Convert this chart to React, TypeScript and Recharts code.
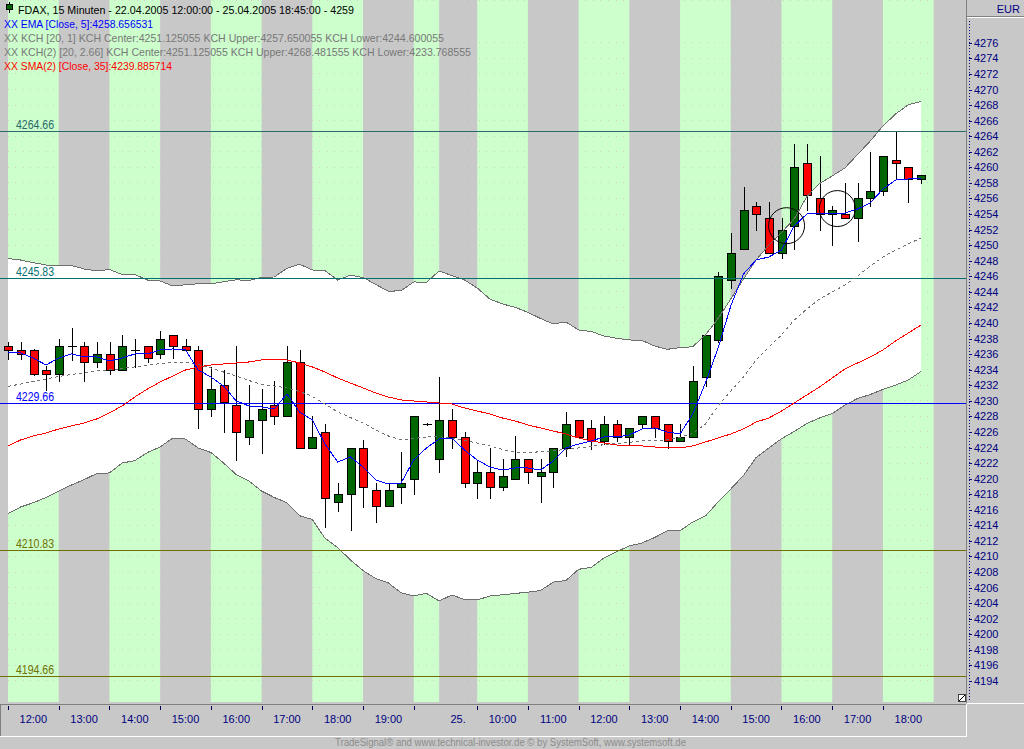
import React from "react";
import {
  ComposedChart,
  Line,
  Bar,
  Area,
  XAxis,
  YAxis,
  CartesianGrid,
  ReferenceArea,
  ReferenceLine,
  ReferenceDot,
} from "recharts";

// 15 minute candles, 22.04.2005 12:00 .. 25.04.2005 18:45
const times = [
  "12:00", "12:15", "12:30", "12:45", "13:00", "13:15", "13:30", "13:45",
  "14:00", "14:15", "14:30", "14:45", "15:00", "15:15", "15:30", "15:45",
  "16:00", "16:15", "16:30", "16:45", "17:00", "17:15", "17:30", "17:45",
  "18:00", "18:15", "18:30", "18:45", "19:00", "19:15", "19:30", "19:45",
  "08:30", "08:45", "09:15", "09:30", "09:45",
  "10:00", "10:15", "10:30", "10:45", "11:00", "11:15", "11:30", "11:45",
  "12:00", "12:15", "12:30", "12:45", "13:00", "13:15", "13:30", "13:45",
  "14:00", "14:15", "14:30", "14:45", "15:00", "15:15", "15:30", "15:45",
  "16:00", "16:15", "16:30", "16:45", "17:00", "17:15", "17:30", "17:45",
  "18:00", "18:15", "18:30", "18:45",
];

const opens = [
  4237.0, 4236.5, 4236.5, 4233.9, 4233.4, 4237.0, 4237.0, 4235.0, 4236.0, 4233.9,
  4236.5, 4237.0, 4236.0, 4238.5, 4237.0, 4236.5, 4228.9, 4232.0, 4229.4, 4225.4,
  4227.5, 4229.4, 4228.0, 4235.0, 4223.9, 4226.0, 4217.0, 4218.0, 4223.9, 4218.5,
  4216.5, 4218.9, 4219.9, 4227.0, 4222.5, 4227.5, 4225.4, 4219.4, 4220.9, 4218.9,
  4219.9, 4222.5, 4220.4, 4220.9, 4223.9, 4227.5, 4226.5, 4224.9, 4227.0, 4225.4,
  4227.0, 4228.1, 4227.0, 4224.9, 4225.4, 4233.0, 4237.8, 4245.5, 4249.5, 4255.0,
  4253.5, 4249.0, 4252.4, 4260.5, 4256.0, 4254.0, 4254.0, 4253.5, 4256.0, 4257.0,
  4261.0, 4260.0, 4258.5,
];
const highs = [
  4237.5, 4237.5, 4236.6, 4234.5, 4237.9, 4239.4, 4237.5, 4237.5, 4237.5, 4238.5,
  4237.9, 4237.0, 4239.0, 4238.5, 4237.9, 4237.0, 4234.4, 4234.0, 4237.0, 4232.0,
  4231.5, 4232.6, 4237.0, 4236.5, 4228.0, 4227.0, 4219.4, 4223.9, 4225.0, 4219.4,
  4219.4, 4223.4, 4228.0, 4227.1, 4233.1, 4228.9, 4226.0, 4222.4, 4223.9, 4222.5,
  4225.5, 4222.5, 4222.5, 4223.9, 4228.5, 4227.5, 4227.5, 4228.1, 4227.5, 4226.5,
  4228.1, 4228.1, 4227.0, 4227.0, 4234.5, 4238.4, 4246.5, 4251.5, 4257.5, 4255.6,
  4255.6, 4253.5, 4263.0, 4263.0, 4261.5, 4255.0, 4258.0, 4258.0, 4262.0, 4261.5,
  4264.6, 4260.0, 4259.0,
];
const lows = [
  4235.4, 4235.4, 4233.3, 4231.4, 4232.5, 4235.2, 4232.5, 4234.4, 4233.4, 4233.9,
  4234.4, 4235.0, 4235.5, 4235.5, 4236.5, 4226.5, 4228.0, 4226.0, 4222.4, 4224.4,
  4223.3, 4227.0, 4228.0, 4223.9, 4223.9, 4213.8, 4215.9, 4213.4, 4216.4, 4214.4,
  4216.5, 4216.9, 4218.0, 4226.9, 4220.9, 4223.9, 4218.9, 4217.5, 4217.5, 4218.5,
  4219.9, 4219.4, 4217.0, 4218.9, 4222.9, 4225.4, 4223.8, 4224.4, 4224.9, 4224.4,
  4226.5, 4225.4, 4223.9, 4224.9, 4225.4, 4231.9, 4237.5, 4244.5, 4249.5, 4252.0,
  4249.0, 4248.4, 4249.5, 4254.5, 4252.0, 4250.0, 4253.5, 4250.5, 4255.0, 4256.5,
  4258.5, 4255.5, 4258.0,
];
const closes = [
  4236.5, 4236.0, 4233.4, 4233.4, 4237.0, 4237.1, 4235.0, 4236.0, 4233.9, 4237.0,
  4236.5, 4235.5, 4237.9, 4237.0, 4236.5, 4228.9, 4231.5, 4229.9, 4226.0, 4227.5,
  4228.9, 4228.0, 4235.0, 4223.9, 4225.4, 4217.5, 4218.0, 4223.9, 4218.9, 4216.5,
  4218.5, 4219.4, 4228.0, 4227.0, 4227.5, 4225.4, 4219.4, 4220.9, 4218.9, 4220.4,
  4222.5, 4220.9, 4220.9, 4223.9, 4227.0, 4225.4, 4224.9, 4227.0, 4225.4, 4226.5,
  4228.1, 4226.5, 4224.9, 4225.4, 4232.5, 4238.4, 4246.0, 4249.0, 4254.5, 4254.0,
  4249.0, 4252.0, 4260.0, 4256.5, 4254.0, 4254.5, 4253.5, 4256.0, 4257.0, 4261.5,
  4260.5, 4258.5, 4259.0,
];

// indicators
const ema5 = [
  4236.15, 4236.15, 4235.5, 4234.6, 4235.5, 4236.02, 4235.63, 4235.63, 4235.12, 4235.5,
  4236.02, 4236.02, 4236.53, 4236.66, 4236.53, 4233.96, 4233.06, 4231.9, 4229.98, 4229.34,
  4229.21, 4228.95, 4230.88, 4228.56, 4227.54, 4224.45, 4222.14, 4222.78, 4221.5, 4219.83,
  4219.31, 4219.44, 4222.4, 4223.94, 4225.09, 4225.22, 4223.68, 4222.4, 4221.5, 4221.11,
  4221.37, 4221.37, 4221.11, 4222.27, 4223.94, 4224.45, 4224.84, 4225.35, 4225.35, 4225.61,
  4226.38, 4226.51, 4225.99, 4225.74, 4228.31, 4232.29, 4236.79, 4242.18, 4246.3, 4248.09,
  4248.48, 4249.38, 4252.46, 4254.0, 4254.13, 4254.13, 4254.13, 4254.65, 4255.42, 4257.22,
  4258.37, 4258.5, 4258.63,
];
const kchCenter = [
  4231.84, 4232.16, 4232.48, 4232.8, 4233.13, 4233.38, 4233.58, 4233.83, 4233.96, 4234.15,
  4234.35, 4234.54, 4234.8, 4234.92, 4234.99, 4234.67, 4234.22, 4233.7, 4233.19, 4232.61,
  4232.1, 4231.9, 4231.65, 4231.2, 4230.56, 4229.59, 4228.56, 4227.86, 4227.15, 4226.25,
  4225.48, 4224.97, 4225.16, 4225.35, 4225.39, 4225.22, 4224.9, 4224.58, 4224.2, 4223.75,
  4223.43, 4223.36, 4223.45, 4223.59, 4223.75, 4223.94, 4224.16, 4224.36, 4224.52, 4224.67,
  4224.84, 4224.9, 4224.97, 4225.31, 4225.81, 4227.02, 4229.34, 4231.26, 4233.06, 4235.25,
  4236.92, 4238.46, 4240.38, 4241.8, 4243.08, 4243.98, 4244.88, 4246.04, 4247.32, 4248.48,
  4249.38, 4250.15, 4250.92,
];
const kchUpper = [
  4248.29, 4248.09, 4247.75, 4247.45, 4247.45, 4247.39, 4246.94, 4246.68, 4246.87, 4246.23,
  4246.23, 4245.52, 4245.4, 4244.75, 4244.91, 4245.04, 4245.01, 4245.31, 4245.55, 4245.46,
  4245.87, 4245.91, 4247.03, 4247.54, 4246.81, 4246.72, 4245.52, 4246.13, 4245.85, 4244.95,
  4244.07, 4244.15, 4245.27, 4245.23, 4246.68, 4246.1, 4245.52, 4244.5, 4243.08, 4242.44,
  4242.02, 4241.36, 4240.58, 4239.87, 4240.13, 4239.1, 4238.91, 4238.33, 4238.03, 4237.82,
  4237.75, 4237.04, 4236.62, 4236.83, 4236.95, 4238.46, 4240.58, 4243.08, 4245.65, 4248.09,
  4250.02, 4251.63, 4253.36, 4256.25, 4257.92, 4258.89, 4259.91, 4261.65, 4263.38, 4265.31,
  4266.85, 4268.05, 4268.46,
];
const kchLower = [
  4215.52, 4216.36, 4216.91, 4217.58, 4218.41, 4219.18, 4219.87, 4220.66, 4220.73, 4222.01,
  4222.31, 4223.36, 4224.07, 4225.22, 4225.09, 4223.94, 4223.36, 4222.01, 4220.53, 4219.7,
  4218.41, 4217.58, 4216.91, 4215.23, 4214.75, 4212.34, 4211.15, 4209.55, 4208.19, 4207.17,
  4206.59, 4205.33, 4204.92, 4205.27, 4204.28, 4205.05, 4204.47, 4204.41, 4204.92, 4205.08,
  4205.25, 4205.41, 4205.63, 4206.7, 4206.91, 4208.35, 4208.6, 4209.81, 4210.61, 4211.35,
  4211.73, 4212.44, 4213.31, 4213.31, 4214.43, 4215.2, 4217.0, 4218.67, 4220.4, 4222.72,
  4223.94, 4225.13, 4226.06, 4227.09, 4227.79, 4228.37, 4229.46, 4230.3, 4230.81, 4231.46,
  4232.03, 4232.68, 4233.77,
];
const sma35 = [
  4224.2, 4224.97, 4225.48, 4225.87, 4226.38, 4226.77, 4227.15, 4227.67, 4228.44, 4229.34,
  4230.49, 4231.52, 4232.42, 4233.19, 4233.96, 4234.35, 4234.6, 4234.73, 4234.86, 4234.99,
  4235.25, 4235.25, 4235.25, 4234.86, 4234.35, 4233.7, 4232.93, 4232.29, 4231.65, 4231.01,
  4230.49, 4230.11, 4229.98, 4229.85, 4229.72, 4229.59, 4229.08, 4228.69, 4228.31, 4227.79,
  4227.41, 4226.89, 4226.51, 4226.12, 4225.74, 4225.22, 4224.84, 4224.58, 4224.32, 4224.32,
  4224.2, 4224.07, 4223.94, 4223.94, 4224.2, 4224.71, 4225.22, 4225.74, 4226.38, 4227.28,
  4227.79, 4228.69, 4229.72, 4230.75, 4231.78, 4232.93, 4234.09, 4234.86, 4235.63, 4236.53,
  4237.69, 4238.71, 4239.74,
];

// hour sessions (index of first candle) and their axis captions
const hourStarts = [0, 4, 8, 12, 16, 20, 24, 28, 32, 34, 37, 41, 45, 49, 53, 57, 61, 65, 69, 73];
const hourLabels = [
  "12:00", "13:00", "14:00", "15:00", "16:00", "17:00", "18:00", "19:00", "", "25.",
  "10:00", "11:00", "12:00", "13:00", "14:00", "15:00", "16:00", "17:00", "18:00", "",
];
const axisTicks = [0, 4, 8, 12, 16, 20, 24, 28, 32, 37, 41, 45, 49, 53, 57, 61, 65, 69];

const priceTicks = [
  4194, 4196, 4198, 4200, 4202, 4204, 4206, 4208, 4210, 4212, 4214, 4216, 4218, 4220,
  4222, 4224, 4226, 4228, 4230, 4232, 4234, 4236, 4238, 4240, 4242, 4244, 4246, 4248,
  4250, 4252, 4254, 4256, 4258, 4260, 4262, 4264, 4266, 4268, 4270, 4272, 4274, 4276,
];

const levels = [4264.66, 4245.83, 4229.66, 4210.83, 4194.66];
const levelColors = ["#2a6a6a", "#007070", "#0000ff", "#707000", "#707000"];

// the two drawn circles (candle position, price)
const markAt = [61.4, 65.4];
const markPrice = [4252.5, 4254.7];

const legendTitle = "FDAX, 15 Minuten - 22.04.2005 12:00:00 - 25.04.2005 18:45:00 - 4259";
const legendLines = [
  "XX EMA [Close, 5]:4258.656531",
  "XX KCH [20, 1] KCH Center:4251.125055 KCH Upper:4257.650055 KCH Lower:4244.600055",
  "XX KCH(2) [20, 2.66] KCH Center:4251.125055 KCH Upper:4268.481555 KCH Lower:4233.768555",
  "XX SMA(2) [Close, 35]:4239.885714",
];
const legendColors = ["#0000ff", "#787878", "#787878", "#ff0000"];
const legendWidths = [149, 440, 467, 168];

const W = 1024;
const H = 749;
const MARGIN = { top: 0, right: 0, bottom: 13, left: 0 };
const X_DOMAIN: [number, number] = [-0.63, 75.55];
const Y_DOMAIN: [number, number] = [4191.3, 4281.5];
const FONT = "Liberation Sans, Arial, sans-serif";
const NAVY = "#000080";

const rows = times.map((t, i) => ({
  i,
  t,
  open: opens[i],
  high: highs[i],
  low: lows[i],
  close: closes[i],
  ema: ema5[i],
  center: kchCenter[i],
  upper: kchUpper[i],
  lower: kchLower[i],
  sma: sma35[i],
}));

const bands = hourStarts.map((from, k) => ({
  from,
  to: k + 1 < hourStarts.length ? hourStarts[k + 1] : X_DOMAIN[1],
  label: hourLabels[k],
  green: k % 2 === 0,
}));
const labelTicks = bands.filter((b) => b.label).map((b) => ({ pos: (b.from + b.to) / 2, label: b.label }));
const labelAt = new Map(labelTicks.map((l) => [l.pos, l.label]));

function Candle(props: any) {
  const { x, y, width, height, payload } = props;
  if (x == null || y == null || !payload) return null;
  const top = Math.min(y, y + height);
  const h = Math.abs(height);
  const span = payload.high - payload.low;
  const py = (v: number) => (span > 0 ? top + ((payload.high - v) / span) * h : top);
  const cx = Math.round(x + width / 2) + 0.5;
  const yo = py(payload.open);
  const yc = py(payload.close);
  const b0 = Math.round(Math.min(yo, yc)) + 0.5;
  const b1 = Math.round(Math.max(yo, yc)) + 0.5;
  const up = payload.close >= payload.open;
  return (
    <g shapeRendering="crispEdges">
      <line x1={cx} x2={cx} y1={Math.round(top)} y2={Math.round(top + h) + 1} stroke="#000" />
      {b1 - b0 < 1 ? (
        <line x1={cx - 4.5} x2={cx + 4.5} y1={b0} y2={b0} stroke="#000" />
      ) : (
        <rect x={cx - 4} y={b0} width={8} height={b1 - b0} fill={up ? "#006600" : "#ff0000"} stroke="#000" />
      )}
    </g>
  );
}

// horizontal level: line plus caption above its left end
function LevelShape(props: any) {
  const y = Math.round(props.y1) + 0.5;
  return (
    <g>
      <line
        x1={props.x1}
        x2={props.x2}
        y1={y}
        y2={y}
        stroke={props.tone}
        strokeWidth={1}
        shapeRendering="crispEdges"
      />
      <text
        x={Math.min(props.x1, props.x2) + 16}
        y={y - 2.5}
        fill={props.tone}
        fontSize={12}
        fontFamily={FONT}
        textLength={38}
        lengthAdjust="spacingAndGlyphs"
      >
        {props.caption}
      </text>
    </g>
  );
}

function HourMark(props: any) {
  const x = Math.round(props.x) + 0.5;
  return <line x1={x} x2={x} y1={props.y + 4} y2={props.y + 8} stroke="#000050" shapeRendering="crispEdges" />;
}

function HourLabel(props: any) {
  return (
    <text x={props.x} y={props.y + 21} textAnchor="middle" fill={NAVY} fontSize={11} fontFamily={FONT}>
      {labelAt.get(props.payload.value)}
    </text>
  );
}

function PriceTick(props: any) {
  const y = Math.round(props.y) + 0.5;
  return (
    <g>
      <line x1={props.x + 3} x2={props.x + 6} y1={y} y2={y} stroke={NAVY} shapeRendering="crispEdges" />
      <text x={props.x + 8} y={props.y + 4} fill={NAVY} fontSize={11} fontFamily={FONT}>
        {props.payload.value}
      </text>
    </g>
  );
}

const layer: React.CSSProperties = { position: "absolute", left: 0, top: 0 };

export default function App() {
  return (
    <div style={{ position: "absolute", left: 0, top: 0, width: W, height: H, background: "#c8c8c8", overflow: "hidden" }}>
      {/* hour sessions and time captions */}
      <div style={layer}>
        <ComposedChart width={W} height={H} data={rows} margin={MARGIN}>
          {bands
            .filter((b) => b.green)
            .map((b) => (
              <ReferenceArea key={b.from} x1={b.from} x2={b.to} fill="#ccffcc" fillOpacity={1} stroke="none" />
            ))}
          <XAxis
            type="number"
            dataKey="i"
            domain={X_DOMAIN}
            allowDataOverflow
            ticks={labelTicks.map((l) => l.pos)}
            interval={0}
            tickSize={0}
            tickMargin={0}
            axisLine={false}
            tickLine={false}
            height={34}
            tick={<HourLabel />}
          />
          <YAxis
            orientation="right"
            width={58}
            domain={Y_DOMAIN}
            allowDataOverflow
            ticks={priceTicks}
            interval={0}
            tick={false}
            axisLine={false}
            tickLine={false}
          />
          <Line dataKey="close" stroke="none" dot={false} activeDot={false} isAnimationActive={false} />
        </ComposedChart>
      </div>

      {/* price chart */}
      <div style={layer}>
        <ComposedChart width={W} height={H} data={rows} margin={MARGIN}>
          <CartesianGrid vertical={false} stroke="#d4d0c8" strokeDasharray="1 6.6" shapeRendering="crispEdges" />
          <XAxis
            type="number"
            dataKey="i"
            domain={X_DOMAIN}
            allowDataOverflow
            ticks={axisTicks}
            interval={0}
            tickSize={0}
            tickMargin={0}
            axisLine={false}
            tickLine={false}
            height={34}
            tick={<HourMark />}
          />
          <YAxis
            orientation="right"
            width={58}
            domain={Y_DOMAIN}
            allowDataOverflow
            ticks={priceTicks}
            interval={0}
            tickSize={0}
            tickMargin={0}
            axisLine={false}
            tickLine={false}
            tick={<PriceTick />}
          />
          <Area
            type="linear"
            dataKey={(d: any) => [d.lower, d.upper]}
            stroke="none"
            fill="#ffffff"
            fillOpacity={1}
            dot={false}
            activeDot={false}
            isAnimationActive={false}
          />
          <Line
            type="linear"
            dataKey="upper"
            stroke="#6e6e6e"
            shapeRendering="crispEdges"
            dot={false}
            activeDot={false}
            isAnimationActive={false}
          />
          <Line
            type="linear"
            dataKey="lower"
            stroke="#6e6e6e"
            shapeRendering="crispEdges"
            dot={false}
            activeDot={false}
            isAnimationActive={false}
          />
          {levels.map((v, k) => (
            <ReferenceLine
              key={v}
              y={v}
              stroke={levelColors[k]}
              shape={(p: any) => <LevelShape {...p} tone={levelColors[k]} caption={v.toFixed(2)} />}
            />
          ))}
          <Line
            type="linear"
            dataKey="center"
            stroke="#707070"
            strokeDasharray="3 3"
            shapeRendering="crispEdges"
            dot={false}
            activeDot={false}
            isAnimationActive={false}
          />
          <Line
            type="linear"
            dataKey="sma"
            stroke="#ff0000"
            shapeRendering="crispEdges"
            dot={false}
            activeDot={false}
            isAnimationActive={false}
          />
          <Bar
            dataKey={(d: any) => [d.low, d.high]}
            barSize={9}
            shape={(p: any) => <Candle {...p} />}
            isAnimationActive={false}
          />
          <Line
            type="linear"
            dataKey="ema"
            stroke="#0000ff"
            shapeRendering="crispEdges"
            dot={false}
            activeDot={false}
            isAnimationActive={false}
          />
          {markAt.map((m, k) => (
            <ReferenceDot key={m} x={m} y={markPrice[k]} r={18} fill="none" stroke="#000" strokeWidth={1} />
          ))}
        </ComposedChart>
      </div>

      {/* window chrome: legend, panels, footer */}
      <svg width={W} height={H} style={{ ...layer, pointerEvents: "none" }} fontFamily={FONT}>
        <g shapeRendering="crispEdges">
          <line x1={9.5} x2={9.5} y1={2} y2={13} stroke="#000" />
          <rect x={6.5} y={4.5} width={6} height={5} fill="#006600" stroke="#000" />
        </g>
        <text x={18} y={14} fontSize={11.5} fill="#000" textLength={336} lengthAdjust="spacingAndGlyphs">
          {legendTitle}
        </text>
        {legendLines.map((s, k) => (
          <text
            key={s}
            x={4}
            y={28 + k * 14}
            fontSize={11.5}
            fill={legendColors[k]}
            textLength={legendWidths[k]}
            lengthAdjust="spacingAndGlyphs"
          >
            {s}
          </text>
        ))}

        <g shapeRendering="crispEdges">
          <line x1={966.5} x2={966.5} y1={0} y2={703} stroke="#808080" />
          <line x1={967} x2={1024} y1={16.5} y2={16.5} stroke="#808080" />
          <line x1={967} x2={1024} y1={17.5} y2={17.5} stroke="#ffffff" />
          <line x1={969.5} x2={969.5} y1={21} y2={701} stroke={NAVY} strokeDasharray="1 2" />
          <line x1={967} x2={1024} y1={703.5} y2={703.5} stroke="#ffffff" />
          <line x1={0} x2={966} y1={704.5} y2={704.5} stroke="#808080" />
          <line x1={0.5} x2={0.5} y1={704} y2={736} stroke="#808080" />
          <line x1={0} x2={967} y1={736.5} y2={736.5} stroke="#ffffff" />
          <line x1={966.5} x2={966.5} y1={704} y2={737} stroke="#ffffff" />
          <rect x={958.5} y={694.5} width={7} height={7} fill="#ffffff" stroke="#404040" />
          <line x1={959} x2={965} y1={701} y2={695} stroke="#000" />
        </g>
        <text x={1020} y={13} fontSize={11} fill={NAVY} textAnchor="end">
          EUR
        </text>

        <text x={335} y={746} fontSize={10} fill="#8c8c8c" textLength={351} lengthAdjust="spacingAndGlyphs">
          TradeSignal® and www.technical-investor.de © by  SystemSoft, www.systemsoft.de
        </text>
      </svg>
    </div>
  );
}
